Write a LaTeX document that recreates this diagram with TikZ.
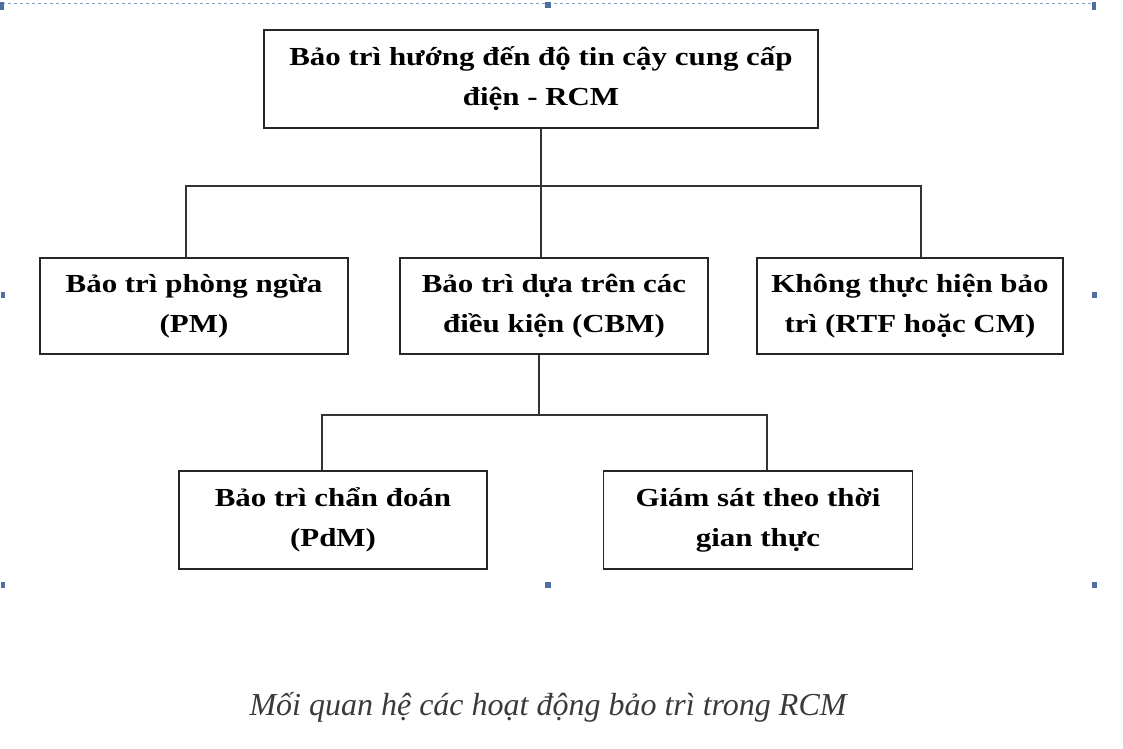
\documentclass[tikz,border=0pt]{standalone}
\usepackage{fontspec}
\setmainfont{Liberation Serif}
\newfontfamily\boxfont[FakeStretch=1.19]{Liberation Serif}
\definecolor{handle}{HTML}{4F6FA0}
\definecolor{selframe}{HTML}{7F9FD0}
\definecolor{captxt}{HTML}{3A3A3A}
\begin{document}
\begin{tikzpicture}[x=1pt,y=-1pt,
  box/.style={draw=black!85,line width=1.8pt,align=center,inner sep=0pt,
    font=\boxfont\bfseries\fontsize{26}{40}\selectfont},
  conn/.style={draw=black!80,line width=1.3pt},
  hdl/.style={fill=handle,draw=none}]
\useasboundingbox (0,0) rectangle (1123,748);
% selection frame
\draw[selframe,dashed,line width=1pt] (2,3) -- (1096,3);
\fill[hdl] (0,2) rectangle (4,10);
\fill[hdl] (1092,2) rectangle (1096,10);
\fill[hdl] (545,2) rectangle (551,8);
\fill[hdl] (1,292) rectangle (5,298);
\fill[hdl] (1092,292) rectangle (1097,298);
\fill[hdl] (1,582) rectangle (5,588);
\fill[hdl] (545,582) rectangle (551,588);
\fill[hdl] (1092,582) rectangle (1097,588);
% boxes
\node[box,minimum width=554pt,minimum height=98pt] (rcm) at (541,79)
  {Bảo trì hướng đến độ tin cậy cung cấp\\điện - RCM};
\node[box,minimum width=308pt,minimum height=96pt] (pm) at (194,306)
  {Bảo trì phòng ngừa\\(PM)};
\node[box,minimum width=308pt,minimum height=96pt] (cbm) at (554,306)
  {Bảo trì dựa trên các\\điều kiện (CBM)};
\node[box,minimum width=306pt,minimum height=96pt] (rtf) at (910,306)
  {Không thực hiện bảo\\trì (RTF hoặc CM)};
\node[box,minimum width=308pt,minimum height=98pt] (pdm) at (333,520)
  {Bảo trì chẩn đoán\\(PdM)};
\node[box,minimum width=309pt,minimum height=98pt] (rt) at (758,520)
  {Giám sát theo thời\\gian thực};
% connectors
\coordinate (bar1L) at (186,186);
\coordinate (bar1R) at (921,186);
\coordinate (bar1M) at (541,186);
\coordinate (bar2L) at (322,415);
\coordinate (bar2R) at (767,415);
\coordinate (bar2M) at (539,415);
\draw[conn] (rcm.south -| bar1M) -- (bar1M);
\draw[conn] (pm.north -| bar1L) -- (bar1L) -- (bar1R) -- (rtf.north -| bar1R);
\draw[conn] (bar1M) -- (cbm.north -| bar1M);
\draw[conn] (cbm.south -| bar2M) -- (bar2M);
\draw[conn] (pdm.north -| bar2L) -- (bar2L) -- (bar2R) -- (rt.north -| bar2R);
% caption
\node[text=captxt,font=\itshape\fontsize{32}{38}\selectfont] (cap) at (548,707)
  {Mối quan hệ các hoạt động bảo trì trong RCM};
\end{tikzpicture}
\end{document}
